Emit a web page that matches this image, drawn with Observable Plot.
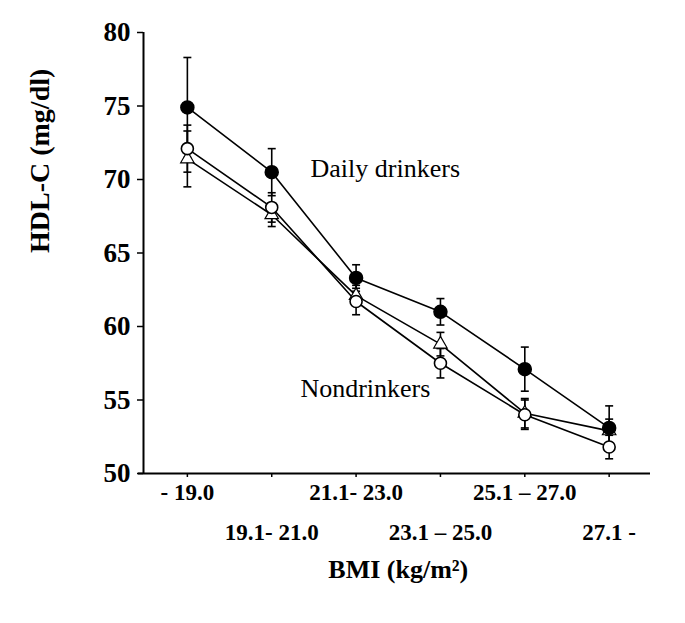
<!DOCTYPE html>
<html>
<head>
<meta charset="utf-8">
<script src="https://cdn.jsdelivr.net/npm/d3@7"></script>
<script src="https://cdn.jsdelivr.net/npm/@observablehq/plot@0.6"></script>
<style>
  html, body { margin: 0; padding: 0; background: #fff; }
  #chart svg { display: block; }
</style>
</head>
<body>
<div id="chart"></div>
<script>
// BMI categories (x axis tick labels)
const categories = ["- 19.0", "19.1- 21.0", "21.1- 23.0", "23.1 – 25.0", "25.1 – 27.0", "27.1 -"];
// Daily drinkers (filled circles)
const dailyValues = [74.9, 70.5, 63.3, 61.0, 57.1, 53.1];
const dailyErrors = [3.4, 1.6, 0.9, 0.9, 1.5, 1.5];
// Nondrinkers (open circles)
const nonValues = [72.1, 68.1, 61.7, 57.5, 54.0, 51.8];
const nonErrors = [1.6, 1.0, 0.9, 1.0, 1.0, 0.8];
// Third group (open triangles)
const triValues = [71.4, 67.6, 62.1, 58.8, 54.1, 52.9];
const triErrors = [1.9, 0.8, 0.7, 0.8, 1.0, 0.8];
// y axis ticks
const yTicks = [50, 55, 60, 65, 70, 75, 80];

function rows(series, values, errors) {
  return values.map((v, i) => ({series, i, v, e: errors[i]}));
}
const dailyRows = rows("daily", dailyValues, dailyErrors);
const nonRows = rows("non", nonValues, nonErrors);
const triRows = rows("tri", triValues, triErrors);
const allRows = [...dailyRows, ...triRows, ...nonRows];

const capSymbol = {
  draw(ctx, size) {
    const r = Math.sqrt(size) / 2;
    ctx.moveTo(-r, 0);
    ctx.lineTo(r, 0);
  }
};

const font = "'Liberation Serif', 'Times New Roman', serif";

const chart = Plot.plot({
  width: 685,
  height: 623,
  marginLeft: 143,
  marginRight: 35,
  marginTop: 32,
  marginBottom: 150,
  style: {fontFamily: font, color: "black", background: "white", overflow: "visible"},
  x: {type: "linear", domain: [-0.52, 5.49]},
  y: {domain: [50, 80]},
  marks: [
    // axis lines
    Plot.ruleX([-0.52], {stroke: "black", strokeWidth: 2}),
    Plot.ruleY([50], {stroke: "black", strokeWidth: 2, x1: -0.58, x2: 5.49}),
    Plot.axisY({
      ticks: yTicks, tickSize: 6, tickPadding: 7, fontSize: 27, fontWeight: "bold",
      strokeWidth: 1.5,
      label: null
    }),
    Plot.text(["HDL-C (mg/dl)"], {frameAnchor: "left", dx: -103, rotate: -90, text: d => d, fontSize: 28, fontWeight: "bold", fill: "black"}),
    Plot.axisX({
      ticks: [0, 2, 4], tickFormat: i => categories[i], tickSize: 4, tickPadding: 6,
      fontSize: 23, fontWeight: "bold", label: null, strokeWidth: 1.5
    }),
    Plot.axisX({
      ticks: [1, 3, 5], tickFormat: i => categories[i], tickSize: 4, tickPadding: 46,
      fontSize: 23, fontWeight: "bold", label: null, strokeWidth: 1.5
    }),
    // connecting lines
    Plot.line(allRows, {x: "i", y: "v", z: "series", stroke: "black", strokeWidth: 1.6}),
    // error bars
    Plot.link(allRows, {x1: "i", x2: "i", y1: d => d.v - d.e, y2: d => d.v + d.e, stroke: "black", strokeWidth: 1.6}),
    Plot.dot(allRows, {x: "i", y: d => d.v + d.e, symbol: capSymbol, r: 4.5, stroke: "black", fill: "none", strokeWidth: 1.6}),
    Plot.dot(allRows, {x: "i", y: d => d.v - d.e, symbol: capSymbol, r: 4.5, stroke: "black", fill: "none", strokeWidth: 1.6}),
    // markers
    Plot.dot(triRows, {x: "i", y: "v", symbol: "triangle", r: 5, fill: "white", stroke: "black", strokeWidth: 1.2}),
    Plot.dot(nonRows, {x: "i", y: "v", symbol: "circle", r: 6, fill: "white", stroke: "black", strokeWidth: 1.6}),
    Plot.dot(dailyRows, {x: "i", y: "v", symbol: "circle", r: 6.5, fill: "black", stroke: "black"}),
    // annotations
    Plot.text(["Daily drinkers"], {x: 1.46, y: 70.75, text: d => d, textAnchor: "start", fontSize: 26, fill: "black"}),
    Plot.text(["Nondrinkers"], {x: 1.34, y: 55.8, text: d => d, textAnchor: "start", fontSize: 26, fill: "black"}),
    // x axis title
    Plot.text(["BMI (kg/m²)"], {x: 2.5, frameAnchor: "bottom", dy: 104, text: d => d, fontSize: 26, fontWeight: "bold", fill: "black"})
  ]
});
document.getElementById("chart").appendChild(chart);
</script>
</body>
</html>
